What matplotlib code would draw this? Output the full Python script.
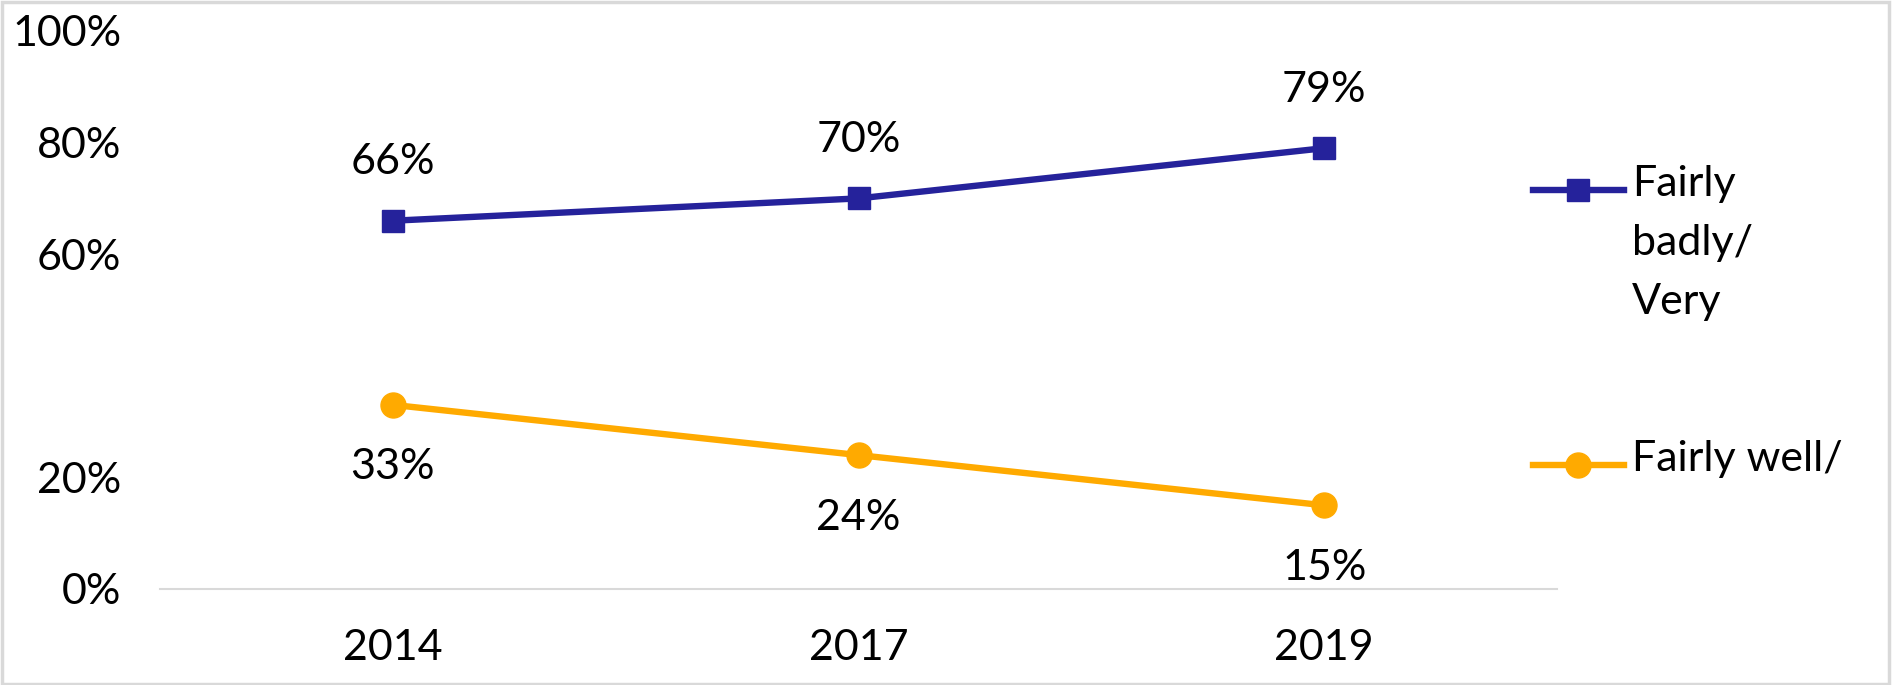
import matplotlib
matplotlib.use("Agg")
import matplotlib.pyplot as plt
from matplotlib.lines import Line2D
from matplotlib.patches import Rectangle

# === DATA ===
years = ["2014", "2017", "2019"]
badly = [66, 70, 79]      # Fairly badly / Very badly
well = [33, 24, 15]       # Fairly well / Very well
y_ticks = [0, 20, 60, 80, 100]   # 40% is not shown in the original
legend_labels = ["Fairly\nbadly/\nVery", "Fairly well/"]

blue = "#25229B"
orange = "#FFAA00"
grey = "#D9D9D9"
font = "Lato"
fs = 31
lw = 4.6

plt.rcParams["font.family"] = [font, "DejaVu Sans"]

W, H = 1893, 685
fig = plt.figure(figsize=(W / 100, H / 100), dpi=100)
ax = fig.add_axes([160 / W, 1 - 589 / H, (1557 - 160) / W, (589 - 31) / H])

x = list(range(len(years)))
ax.plot(x, badly, color=blue, lw=lw, marker="s", ms=16, zorder=3)
ax.plot(x, well, color=orange, lw=lw, marker="o", ms=18, zorder=3)

# --- data labels ---
for xi, v in zip(x, badly):
    ax.annotate(f"{v}%", (xi, v), xytext=(0, 42), textcoords="offset points",
                ha="center", va="center", fontsize=fs)
for xi, v in zip(x, well):
    ax.annotate(f"{v}%", (xi, v), xytext=(0, -45), textcoords="offset points",
                ha="center", va="center", fontsize=fs)

ax.set_xlim(-0.5, 2.5)
ax.set_ylim(0, 100)
ax.set_xticks(x)
ax.set_xticklabels(years, fontsize=fs)
ax.set_yticks(y_ticks)
ax.set_yticklabels([f"{t}%" for t in y_ticks], fontsize=fs)
ax.tick_params(axis="both", length=0)
ax.tick_params(axis="y", pad=28)
ax.tick_params(axis="x", pad=29)

for s in ["top", "right", "left"]:
    ax.spines[s].set_visible(False)
ax.spines["bottom"].set_color(grey)
ax.spines["bottom"].set_linewidth(1.5)

# --- legend drawn by hand so the handle sits on the first text line ---
entries = [(blue, "s", 16, 190), (orange, "o", 18, 465)]
for (c, m, ms, ypx), lab in zip(entries, legend_labels):
    yf = 1 - ypx / H
    fig.add_artist(Line2D([1533 / W, 1624 / W], [yf, yf], color=c, lw=lw,
                          transform=fig.transFigure))
    fig.add_artist(Line2D([1578 / W], [yf], color=c, marker=m, ms=ms,
                          transform=fig.transFigure))
    fig.text(1632 / W, yf + 25 / H, lab, fontsize=fs, ha="left", va="top",
             linespacing=1.68)

# --- outer frame ---
fig.add_artist(Rectangle((0.001, 0.002), 0.997, 0.995, transform=fig.transFigure,
                         fill=False, edgecolor=grey, lw=2.5))

fig.savefig("out.png", dpi=100, facecolor="white")
